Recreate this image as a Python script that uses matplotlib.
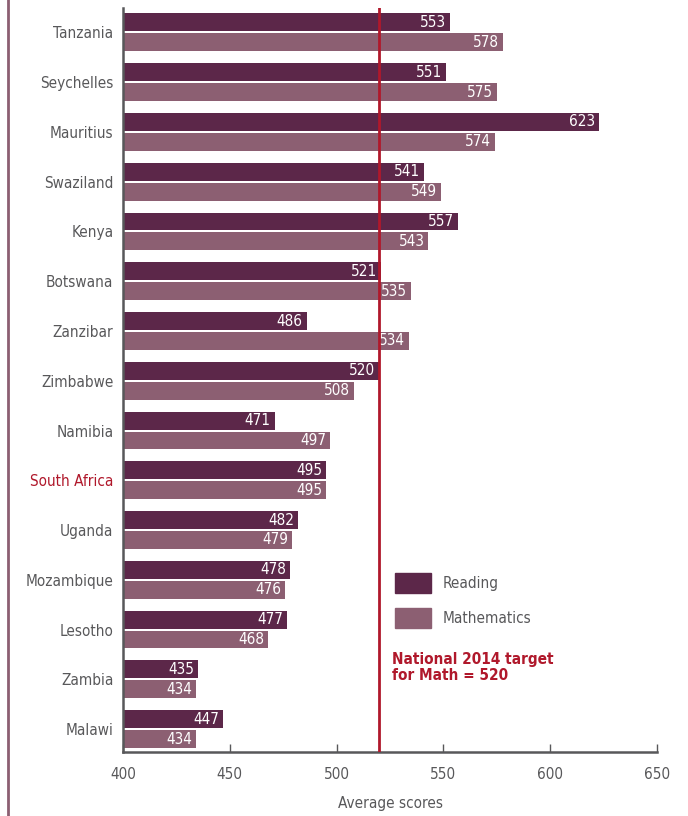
import numpy as np
import matplotlib.pyplot as plt
from matplotlib.patches import Patch
from matplotlib.lines import Line2D

plt.rcParams['font.family'] = ['Liberation Sans Narrow', 'DejaVu Sans']
plt.rcParams['font.stretch'] = 'condensed'

# Data (top to bottom)
countries = ['Tanzania', 'Seychelles', 'Mauritius', 'Swaziland', 'Kenya', 'Botswana',
             'Zanzibar', 'Zimbabwe', 'Namibia', 'South Africa', 'Uganda', 'Mozambique',
             'Lesotho', 'Zambia', 'Malawi']
reading = [553, 551, 623, 541, 557, 521, 486, 520, 471, 495, 482, 478, 477, 435, 447]
maths = [578, 575, 574, 549, 543, 535, 534, 508, 497, 495, 479, 476, 468, 434, 434]
target = 520

c_read = '#5C2749'
c_math = '#8C5F72'
c_red = '#B0182B'
c_grey = '#58585A'

fig = plt.figure(figsize=(6.88, 8.16), dpi=100)
ax = fig.add_axes([123 / 688, 1 - 752 / 816, (657 - 123) / 688, (752 - 8) / 816])

y = np.arange(len(countries))
h = 0.36
off = 0.2
base = 400
ax.barh(y - off, np.array(reading) - base, left=base, height=h, color=c_read)
ax.barh(y + off, np.array(maths) - base, left=base, height=h, color=c_math)

for yi, r, m in zip(y, reading, maths):
    ax.text(r - 1.8, yi - off, str(r), color='white', fontsize=11, ha='right', va='center')
    ax.text(m - 1.8, yi + off, str(m), color='white', fontsize=11, ha='right', va='center')

ax.axvline(target, color=c_red, lw=2, zorder=3)

ax.set_xlim(400, 650)
ax.set_ylim(14.46, -0.49)
ax.set_xticks([400, 450, 500, 550, 600, 650])
ax.set_yticks(y)
ax.set_yticklabels(countries)
for lbl in ax.get_yticklabels():
    lbl.set_color(c_red if lbl.get_text() == 'South Africa' else c_grey)
ax.tick_params(axis='y', length=0, labelsize=11, pad=7)
ax.tick_params(axis='x', direction='in', length=6, width=1, colors=c_grey,
               labelsize=11, pad=11)
for sp in ['top', 'right']:
    ax.spines[sp].set_visible(False)
for sp in ['left', 'bottom']:
    ax.spines[sp].set_color(c_grey)
    ax.spines[sp].set_linewidth(1.8)
ax.set_xlabel('Average scores', color=c_grey, fontsize=11, labelpad=10)

handles = [Patch(color=c_read, label='Reading'), Patch(color=c_math, label='Mathematics')]
leg = ax.legend(handles=handles, loc='upper left', bbox_to_anchor=(0.483, 0.259),
                frameon=False, fontsize=11, handlelength=2.35, handleheight=1.65,
                labelspacing=0.95, handletextpad=0.8)
for t in leg.get_texts():
    t.set_color(c_grey)

ax.text(0.503, 0.135, 'National 2014 target\nfor Math = 520', transform=ax.transAxes,
        color=c_red, fontsize=11, fontweight='bold', va='top', ha='left', linespacing=1.1)

fig.add_artist(Line2D([8 / 688, 8 / 688], [0, 1], color=c_math, lw=2,
                      transform=fig.transFigure))

fig.savefig('out.png', dpi=100)
